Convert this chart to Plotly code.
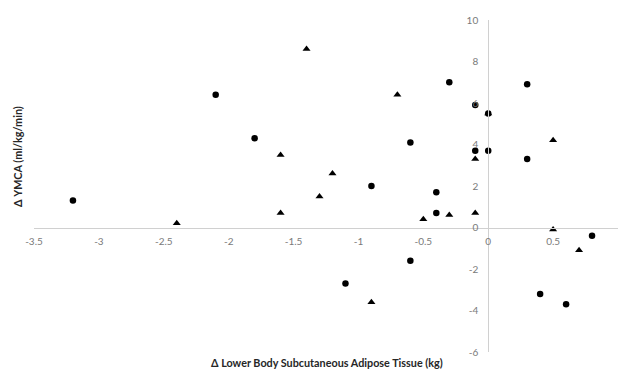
import plotly.graph_objects as go

# Series 1 (circles)
circle_x = [-3.2, -2.1, -1.8, -0.9, -0.6, -0.3, -0.1, 0.0, -0.1, 0.0, 0.3, 0.3, -0.4, -0.4, -0.6, -1.1, 0.4, 0.6, 0.8]
circle_y = [1.3, 6.4, 4.3, 2.0, 4.1, 7.0, 5.9, 5.5, 3.7, 3.7, 6.9, 3.3, 1.7, 0.7, -1.6, -2.7, -3.2, -3.7, -0.4]

# Series 2 (triangles)
tri_x = [-2.4, -1.6, -1.6, -1.4, -1.3, -1.2, -0.9, -0.7, -0.5, -0.3, -0.1, -0.1, 0.0, 0.5, 0.5, 0.7]
tri_y = [0.2, 3.5, 0.7, 8.6, 1.5, 2.6, -3.6, 6.4, 0.4, 0.6, 3.3, 0.7, 5.5, 4.2, -0.1, -1.1]

# Tick labels
x_tickvals = [-3.5, -3, -2.5, -2, -1.5, -1, -0.5, 0, 0.5, 1]
x_ticktext = ["-3.5", "-3", "-2.5", "-2", "-1.5", "-1", "-0.5", "0", "0.5", "1"]
y_tickvals = [-6, -4, -2, 0, 2, 4, 6, 8, 10]
y_ticktext = ["-6", "-4", "-2", "0", "2", "4", "6", "8", "10"]

x_title = "Δ Lower Body Subcutaneous Adipose Tissue (kg)"
y_title = "Δ YMCA (ml/kg/min)"

x_range = [-3.5, 1]
y_range = [-6, 10]

fig = go.Figure()
fig.add_trace(go.Scatter(x=circle_x, y=circle_y, mode="markers",
                         marker=dict(symbol="circle", size=6.5, color="black"),
                         showlegend=False))
fig.add_trace(go.Scatter(x=tri_x, y=tri_y, mode="markers",
                         marker=dict(symbol="triangle-up", size=7, color="black"),
                         showlegend=False))

tick_font = dict(family="Lato, Liberation Sans, sans-serif", size=10, color="#7a7a7a")
title_font = dict(family="Lato, Liberation Sans, sans-serif", size=10.8, color="#262626")

x_pos = (0 - y_range[0]) / (y_range[1] - y_range[0])
y_pos = (0 - x_range[0]) / (x_range[1] - x_range[0])

fig.update_layout(
    width=620, height=369,
    margin=dict(l=34, r=2, t=20, b=17),
    paper_bgcolor="white", plot_bgcolor="white",
    xaxis=dict(range=x_range, tickvals=x_tickvals, ticktext=x_ticktext,
               showgrid=False, zeroline=False, showline=True, linecolor="#d0d0d0",
               linewidth=1, anchor="free", position=x_pos,
               ticks="outside", ticklen=4, tickcolor="rgba(0,0,0,0)",
               tickfont=tick_font),
    yaxis=dict(range=y_range, tickvals=y_tickvals, ticktext=y_ticktext,
               showgrid=False, zeroline=False, showline=True, linecolor="#d0d0d0",
               linewidth=1, anchor="free", position=y_pos,
               ticks="outside", ticklen=8, tickcolor="rgba(0,0,0,0)",
               tickfont=tick_font),
    annotations=[
        dict(text="<b>" + x_title + "</b>", xref="paper", yref="paper",
             x=(327 - 34) / 584, y=-(362 - 352) / 332, showarrow=False,
             xanchor="center", yanchor="middle", font=title_font),
        dict(text="<b>" + y_title + "</b>", xref="paper", yref="paper",
             x=-(34 - 17) / 584, y=(352 - 157) / 332, showarrow=False, textangle=-90,
             xanchor="center", yanchor="middle", font=title_font),
    ],
)

fig.write_html("out.html", config={"displayModeBar": False},
               post_script="document.body.style.margin='0';document.body.style.overflow='hidden';")
